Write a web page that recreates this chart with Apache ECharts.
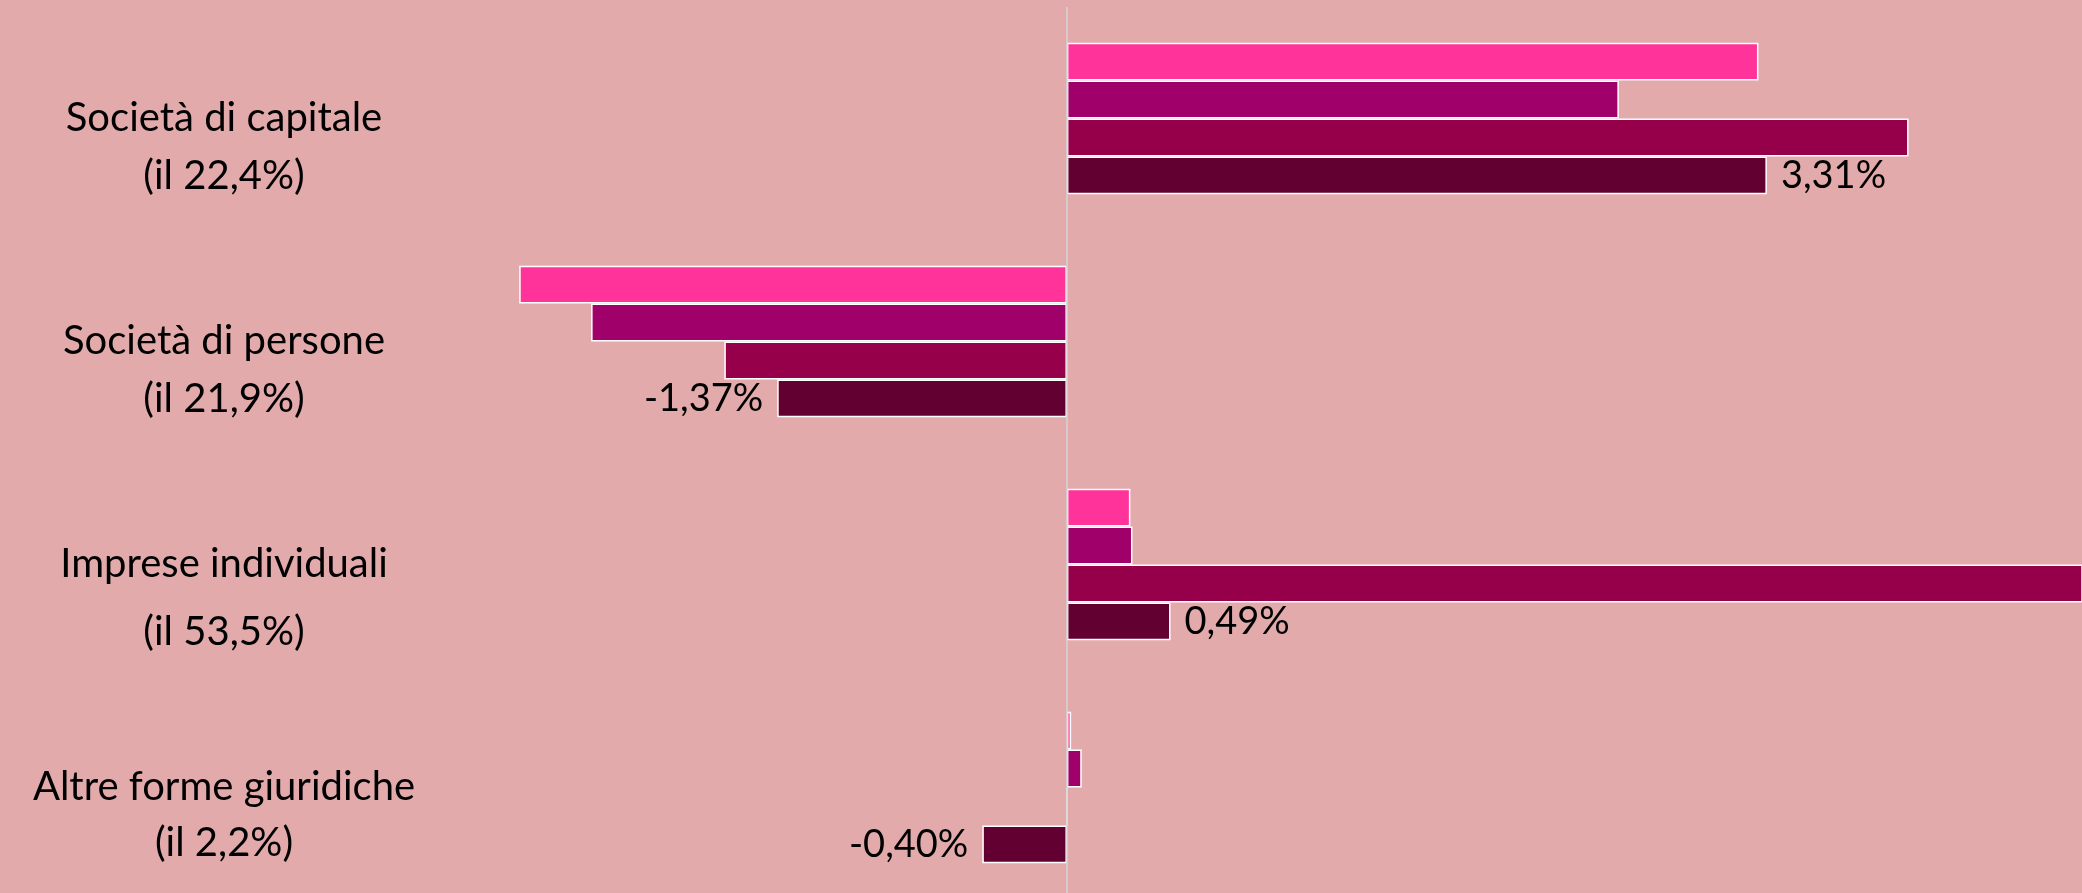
<!DOCTYPE html>
<html><head><meta charset="utf-8">
<script src="https://cdn.jsdelivr.net/npm/echarts@6/dist/echarts.min.js"></script>
<style>html,body{margin:0;padding:0;background:#E2AAAB;}#c{width:2082px;height:893px;}</style>
</head><body><div id="c"></div>
<script>
const categories = ['Società di capitale', 'Società di persone', 'Imprese individuali', 'Altre forme giuridiche'];
const shares = ['(il 22,4%)', '(il 21,9%)', '(il 53,5%)', '(il 2,2%)'];
const seriesNames = ['Serie 1', 'Serie 2', 'Serie 3', 'Serie 4'];
const serie1 = [3.27, -2.59, 0.30, 0.02];
const serie2 = [2.61, -2.25, 0.31, 0.07];
const serie3 = [3.98, -1.62, 5.20, 0.00];
const serie4 = [3.31, -1.37, 0.49, -0.40];

const lineGaps = [58, 58, 68, 56];
const colors = ['#FF3399', '#A0006A', '#96004A', '#620031'];
const FONT = 'Lato';

const chart = echarts.init(document.getElementById('c'));
const fmt = v => v.toFixed(2).replace('.', ',') + '%';
const allSeries = [serie1, serie2, serie3, serie4];

const series = allSeries.map((vals, si) => {
  const s = {
    name: seriesNames[si],
    type: 'bar',
    barGap: '0%',
    barCategoryGap: '32%',
    itemStyle: { color: colors[si], borderColor: '#FFFFFF', borderWidth: 1.5 },
    data: vals.map(v => si === 3 ? { value: v, label: { position: v < 0 ? 'left' : 'right' } } : v),
    label: si === 3 ? {
      show: true, distance: 14, color: '#000', fontFamily: FONT, fontSize: 38,
      formatter: p => fmt(p.value)
    } : { show: false }
  };
  if (si === 0) {
    s.markLine = {
      silent: true, symbol: 'none', label: { show: false },
      lineStyle: { color: '#D4D4D4', width: 1.5, type: 'solid' },
      data: [{ xAxis: 0 }]
    };
  }
  return s;
});

chart.setOption({
  animation: false,
  backgroundColor: '#E2AAAB',
  grid: { left: 405, right: 0, top: 7, height: 892, containLabel: false, outerBoundsMode: 'none' },
  xAxis: { type: 'value', min: -3.13, max: 4.8, show: false },
  yAxis: {
    type: 'category', inverse: true,
    axisLine: { show: false }, axisTick: { show: false }, splitLine: { show: false },
    data: categories.map((c, i) => ({
      value: c,
      textStyle: { lineHeight: lineGaps[i], align: 'center', verticalAlign: 'middle',
                   fontFamily: FONT, fontSize: 40, color: '#000' }
    })),
    axisLabel: {
      fontFamily: FONT, fontSize: 40, color: '#000', align: 'center', margin: 181,
      formatter: (v, i) => '\n' + v + '\n' + shares[i]
    }
  },
  series
});
</script></body></html>
